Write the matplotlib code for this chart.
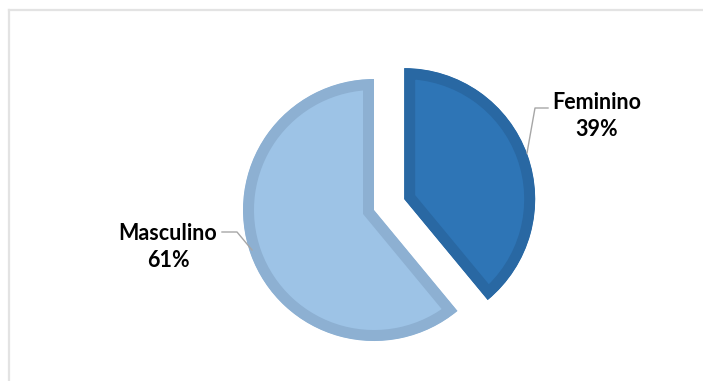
import matplotlib.pyplot as plt
from matplotlib.lines import Line2D

# --- Dados ---
categorias = ["Feminino", "Masculino"]
percentuais = [39, 61]
cores_face = ["#2E75B6", "#9DC3E6"]
cores_borda = ["#2968A3", "#8DB0D2"]

W, H = 703, 381
CX, CY, R = 374, 210, 131  # centro e raio da pizza em pixels
BORDA = 11  # largura da borda das fatias em pixels


def px(x, y):
    """Converte pixel (origem no topo) para coordenadas de dados."""
    return (x - CX) / R, (CY - y) / R


fig = plt.figure(figsize=(W / 100, H / 100), dpi=100)
fig.patch.set_facecolor("white")

# moldura (só topo e esquerda aparecem)
fig.add_artist(Line2D([9 / W, 9 / W], [0, 1 - 10 / H], color="#E3E3E3", lw=1.6))
fig.add_artist(Line2D([9 / W, 1], [1 - 10 / H, 1 - 10 / H], color="#E3E3E3", lw=1.6))

ax = fig.add_axes([0, 0, 1, 1])

fatias, _ = ax.pie(percentuais, colors=cores_face, startangle=90, counterclock=False,
                   explode=[0.245, 0], radius=1,
                   wedgeprops=dict(linewidth=2 * BORDA * 0.72, joinstyle="miter"))

ax.set_aspect("auto")
ax.set_xlim(-CX / R, (W - CX) / R)
ax.set_ylim(-(H - CY) / R, CY / R)
ax.axis("off")

for w, c in zip(fatias, cores_borda):
    w.set_edgecolor(c)
    # recorta pelo próprio contorno: a borda fica só do lado de dentro
    w.set_clip_on(True)
    w.set_clip_path(w)

# --- Rótulos ---
fonte = dict(fontsize=15.5, fontweight="bold", family=["Lato", "DejaVu Sans"],
             ha="center", va="center", color="#000000")
pos_rotulos = [(597, 116), (168, 247)]
linhas_guia = [[(548, 108), (535, 108), (527, 153)],
               [(222, 232), (237, 232), (252, 250)]]

for nome, pct, (tx, ty), guia in zip(categorias, percentuais, pos_rotulos, linhas_guia):
    x, y = px(tx, ty)
    ax.text(x, y, f"{nome}\n{pct}%", linespacing=1.35, **fonte)
    pts = [px(a, b) for a, b in guia]
    ax.plot([p[0] for p in pts], [p[1] for p in pts], color="#A6A6A6", lw=1)

fig.savefig("out.png", dpi=100)
